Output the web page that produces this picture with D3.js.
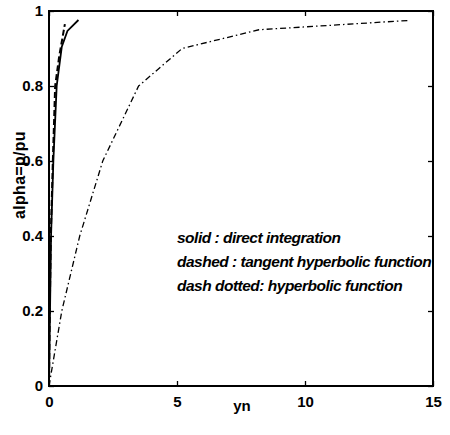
<!DOCTYPE html>
<html><head><meta charset="utf-8">
<script src="https://cdn.jsdelivr.net/npm/d3@7"></script>
<style>body{margin:0;background:#fff}svg{display:block}</style>
</head><body>
<svg id="c" width="450" height="435"></svg>
<script>
const solidX = [0, 0.04, 0.08, 0.17, 0.3, 0.5, 0.72, 1.15];
const solidY = [0, 0.2, 0.4, 0.6, 0.8, 0.905, 0.947, 0.976];
const dashedX = [0, 0.03, 0.07, 0.15, 0.24, 0.4, 0.53, 0.62];
const dashedY = [0, 0.2, 0.4, 0.6, 0.8, 0.88, 0.93, 0.965];
const dotX = [0, 0.5, 1.2, 2.1, 3.5, 5.2, 8.2, 14.1];
const dotY = [0, 0.2, 0.4, 0.6, 0.8, 0.9, 0.95, 0.975];
const xTicks = [0, 5, 10, 15];
const yTicks = [0, 0.2, 0.4, 0.6, 0.8, 1];
const legendLines = ["solid : direct integration", "dashed : tangent hyperbolic function", "dash dotted: hyperbolic function"];

const svg = d3.select("#c");
const L = 49, R = 433, T = 11, B = 386;
const x = d3.scaleLinear().domain([0, 15]).range([L, R]);
const y = d3.scaleLinear().domain([0, 1]).range([B, T]);
const font = "'Liberation Sans', Arial, sans-serif";

function drawAxis(axis, tx, ty, showLabels) {
  const g = svg.append("g").attr("transform", `translate(${tx},${ty})`).call(axis);
  g.select(".domain").remove();
  g.selectAll(".tick line").attr("stroke", "#000").attr("stroke-width", 1.3);
  g.selectAll("text").attr("fill", "#000").style("font-family", font)
    .style("font-size", "15px").style("font-weight", "bold");
  if (!showLabels) g.selectAll("text").remove();
  return g;
}
const fmtY = d => d === 0 ? "0" : d === 1 ? "1" : d3.format(".1f")(d);
drawAxis(d3.axisBottom(x).tickValues(xTicks).tickSize(-5).tickPadding(10), 0, B, true);
drawAxis(d3.axisTop(x).tickValues(xTicks).tickSize(-5), 0, T, false);
drawAxis(d3.axisLeft(y).tickValues(yTicks).tickSize(-5).tickPadding(6).tickFormat(fmtY), L, 0, true);
drawAxis(d3.axisRight(y).tickValues(yTicks).tickSize(-5), R, 0, false);

svg.append("rect").attr("x", L).attr("y", T).attr("width", R - L).attr("height", B - T)
  .attr("fill", "none").attr("stroke", "#000").attr("stroke-width", 2);

const line = d3.line().x(d => x(d[0])).y(d => y(d[1]));
const zip = (a, b) => a.map((v, i) => [v, b[i]]);
svg.append("path").attr("d", line(zip(dotX, dotY))).attr("fill", "none").attr("stroke", "#000")
  .attr("stroke-width", 1.3).attr("stroke-dasharray", "6,3,1.5,3");
svg.append("path").attr("d", line(zip(dashedX, dashedY))).attr("fill", "none").attr("stroke", "#000")
  .attr("stroke-width", 2).attr("stroke-dasharray", "6,3");
svg.append("path").attr("d", line(zip(solidX, solidY))).attr("fill", "none").attr("stroke", "#000")
  .attr("stroke-width", 1.8);

svg.append("text").attr("x", 242).attr("y", 411).attr("text-anchor", "middle")
  .style("font-family", font).style("font-size", "15px").style("font-weight", "bold").text("yn");
svg.append("text").attr("transform", "translate(25,175) rotate(-90)").attr("text-anchor", "middle")
  .style("font-family", font).style("font-size", "16px").style("font-weight", "bold")
  .style("letter-spacing", "0.3px").text("alpha=p/pu");

legendLines.forEach((t, i) => {
  svg.append("text").attr("x", 177).attr("y", 243 + i * 24)
    .style("font-family", font).style("font-size", "15.5px").style("font-weight", "bold")
    .style("font-style", "italic").style("letter-spacing", "-0.5px").text(t);
});
</script>
</body></html>
